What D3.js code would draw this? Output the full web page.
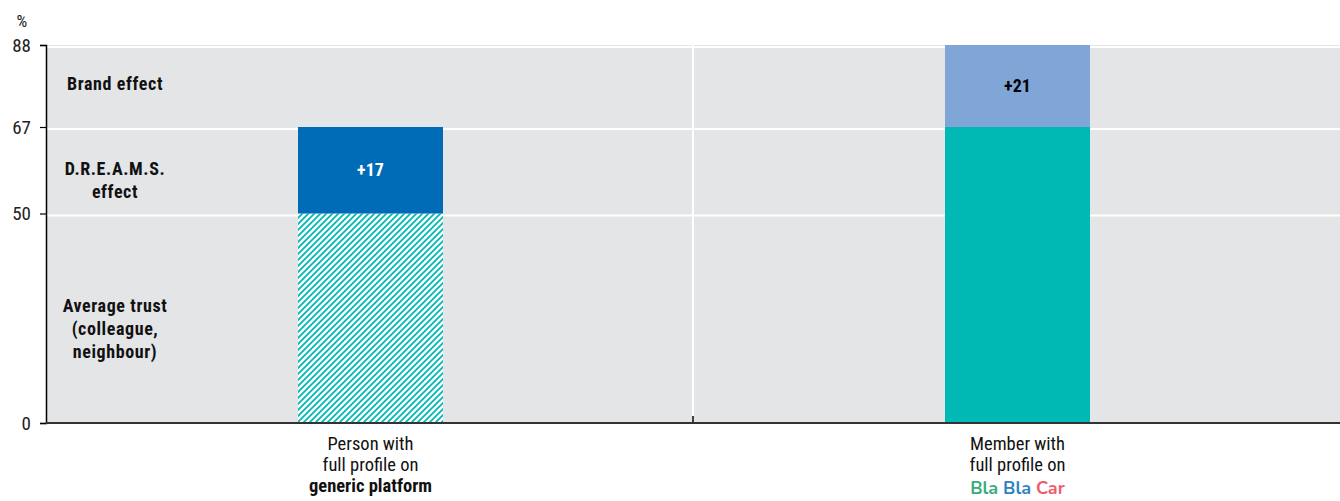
<!DOCTYPE html>
<html><head><meta charset="utf-8">
<script src="https://cdn.jsdelivr.net/npm/d3@7"></script>
<style>
body{margin:0;background:#fff;}
svg{display:block;}
text{font-family:"Liberation Sans Narrow","Arial Narrow","Roboto Condensed",sans-serif;}
</style></head>
<body><svg id="c" width="1340" height="501"></svg>
<script>
const categories = ["generic", "blablacar"];
const baseValues = [50, 67];
const effectValues = [17, 21];
const yTicks = [0, 50, 67, 88];
const sideLabels = [
  {lines:["Brand effect"], at:78},
  {lines:["D.R.E.A.M.S.","effect"], at:56.5},
  {lines:["Average trust","(colleague,","neighbour)"], at:22.4}
];

const svg = d3.select("#c");
const W = 1340, H = 501;
const m = {left:46, right:0, top:45, bottom:78};
const x = d3.scaleBand().domain(categories).range([m.left, W - m.right]);
// the chart uses an illustrative (piecewise) value axis
const y = d3.scaleLinear().domain([0, 50, 67, 88]).range([H - m.bottom, 213.5, 127, m.top]);

const col = {bg:"#e4e5e7", dark:"#006bb6", light:"#7fa6d7", teal:"#00b8b4"};

const defs = svg.append("defs");
const pat = defs.append("pattern").attr("id","hatch").attr("patternUnits","userSpaceOnUse")
  .attr("width",6).attr("height",6);
pat.append("rect").attr("width",6).attr("height",6).attr("fill","#fff");
pat.append("path").attr("d","M-1,1 l2,-2 M0,6 l6,-6 M5,7 l2,-2")
  .attr("stroke",col.teal).attr("stroke-width",1.8);

// background
svg.append("rect").attr("x",m.left).attr("y",y(88)).attr("width",W-m.left-m.right)
  .attr("height",y(0)-y(88)).attr("fill",col.bg);

// horizontal gridlines
svg.append("g").selectAll("line").data(yTicks.filter(d=>d>0)).join("line")
  .attr("x1",m.left).attr("x2",W).attr("y1",d=>y(d)+2).attr("y2",d=>y(d)+2)
  .attr("stroke","#fff").attr("stroke-width",2);

// vertical separator between categories
const sep = x.range()[0] + x.step();
svg.append("line").attr("x1",sep).attr("x2",sep).attr("y1",y(88)).attr("y2",y(0))
  .attr("stroke","#fff").attr("stroke-width",2);
svg.append("line").attr("x1",sep).attr("x2",sep).attr("y1",y(0)-7).attr("y2",y(0))
  .attr("stroke","#000").attr("stroke-width",1.5);

// bars
const bw = 145;
const cx = d => x(d) + x.bandwidth()/2 + 1;
const g = svg.append("g");
g.selectAll(".base").data(categories).join("rect")
  .attr("x",d=>cx(d)-bw/2).attr("width",bw)
  .attr("y",(d,i)=>y(baseValues[i])).attr("height",(d,i)=>y(0)-y(baseValues[i]))
  .attr("fill",(d,i)=> i===0 ? "url(#hatch)" : col.teal);
g.selectAll(".eff").data(categories).join("rect")
  .attr("x",d=>cx(d)-bw/2).attr("width",bw)
  .attr("y",(d,i)=>y(baseValues[i]+effectValues[i]))
  .attr("height",(d,i)=>y(baseValues[i])-y(baseValues[i]+effectValues[i]))
  .attr("fill",(d,i)=> i===0 ? col.dark : col.light);
g.selectAll(".lab").data(categories).join("text")
  .attr("x",d=>cx(d))
  .attr("y",(d,i)=>(y(baseValues[i])+y(baseValues[i]+effectValues[i]))/2+6)
  .attr("text-anchor","middle").attr("font-size",18).attr("font-weight","bold")
  .attr("fill",(d,i)=> i===0 ? "#fff" : "#000")
  .text((d,i)=>"+"+effectValues[i]);

// axes
const yAxis = svg.append("g").attr("transform",`translate(${m.left},0)`)
  .call(d3.axisLeft(y).tickValues(yTicks).tickSize(6).tickPadding(10).tickFormat(d3.format("d")));
yAxis.select(".domain").attr("stroke","#000").attr("stroke-width",1.5);
yAxis.selectAll(".tick line").attr("stroke","#000").attr("stroke-width",1.2);
yAxis.selectAll(".tick text").attr("font-size",19).attr("fill","#222")
  .attr("font-family","'Liberation Sans Narrow','Arial Narrow',sans-serif").attr("x",-15);
svg.append("text").attr("x",22).attr("y",27).attr("text-anchor","middle")
  .attr("font-size",17).attr("fill","#222").text("%");

svg.append("line").attr("x1",m.left).attr("x2",W).attr("y1",y(0)).attr("y2",y(0))
  .attr("stroke","#333").attr("stroke-width",2);

// side labels
const sl = svg.append("g");
sideLabels.forEach(s=>{
  const mid = y(s.at);
  const lh = 23;
  const t = sl.append("text").attr("text-anchor","middle").attr("font-size",18)
    .attr("font-weight","bold").attr("fill","#111").attr("letter-spacing","0.6");
  s.lines.forEach((ln,i)=>{
    t.append("tspan").attr("x",115).attr("y",mid + 6 + (i-(s.lines.length-1)/2)*lh).text(ln);
  });
});

// category labels
const lab1 = svg.append("text").attr("text-anchor","middle").attr("font-size",18.5).attr("fill","#111");
["Person with","full profile on"].forEach((ln,i)=>lab1.append("tspan").attr("x",cx(categories[0])).attr("y",450+i*21).text(ln));
lab1.append("tspan").attr("x",cx(categories[0])).attr("y",492).attr("font-weight","bold").text("generic platform");

const lab2 = svg.append("text").attr("text-anchor","middle").attr("font-size",18.5).attr("fill","#111");
["Member with","full profile on"].forEach((ln,i)=>lab2.append("tspan").attr("x",cx(categories[1])).attr("y",450+i*21).text(ln));
const logo = svg.append("text").attr("text-anchor","middle").attr("x",cx(categories[1])).attr("y",494)
  .attr("font-size",18).attr("font-weight","bold")
  .style("font-family","'Nunito','Lato','Open Sans',sans-serif");
logo.append("tspan").attr("fill","#3bab7c").text("Bla ");
logo.append("tspan").attr("fill","#2f82c4").text("Bla ");
logo.append("tspan").attr("fill","#ef5a6c").text("Car");
</script></body></html>
